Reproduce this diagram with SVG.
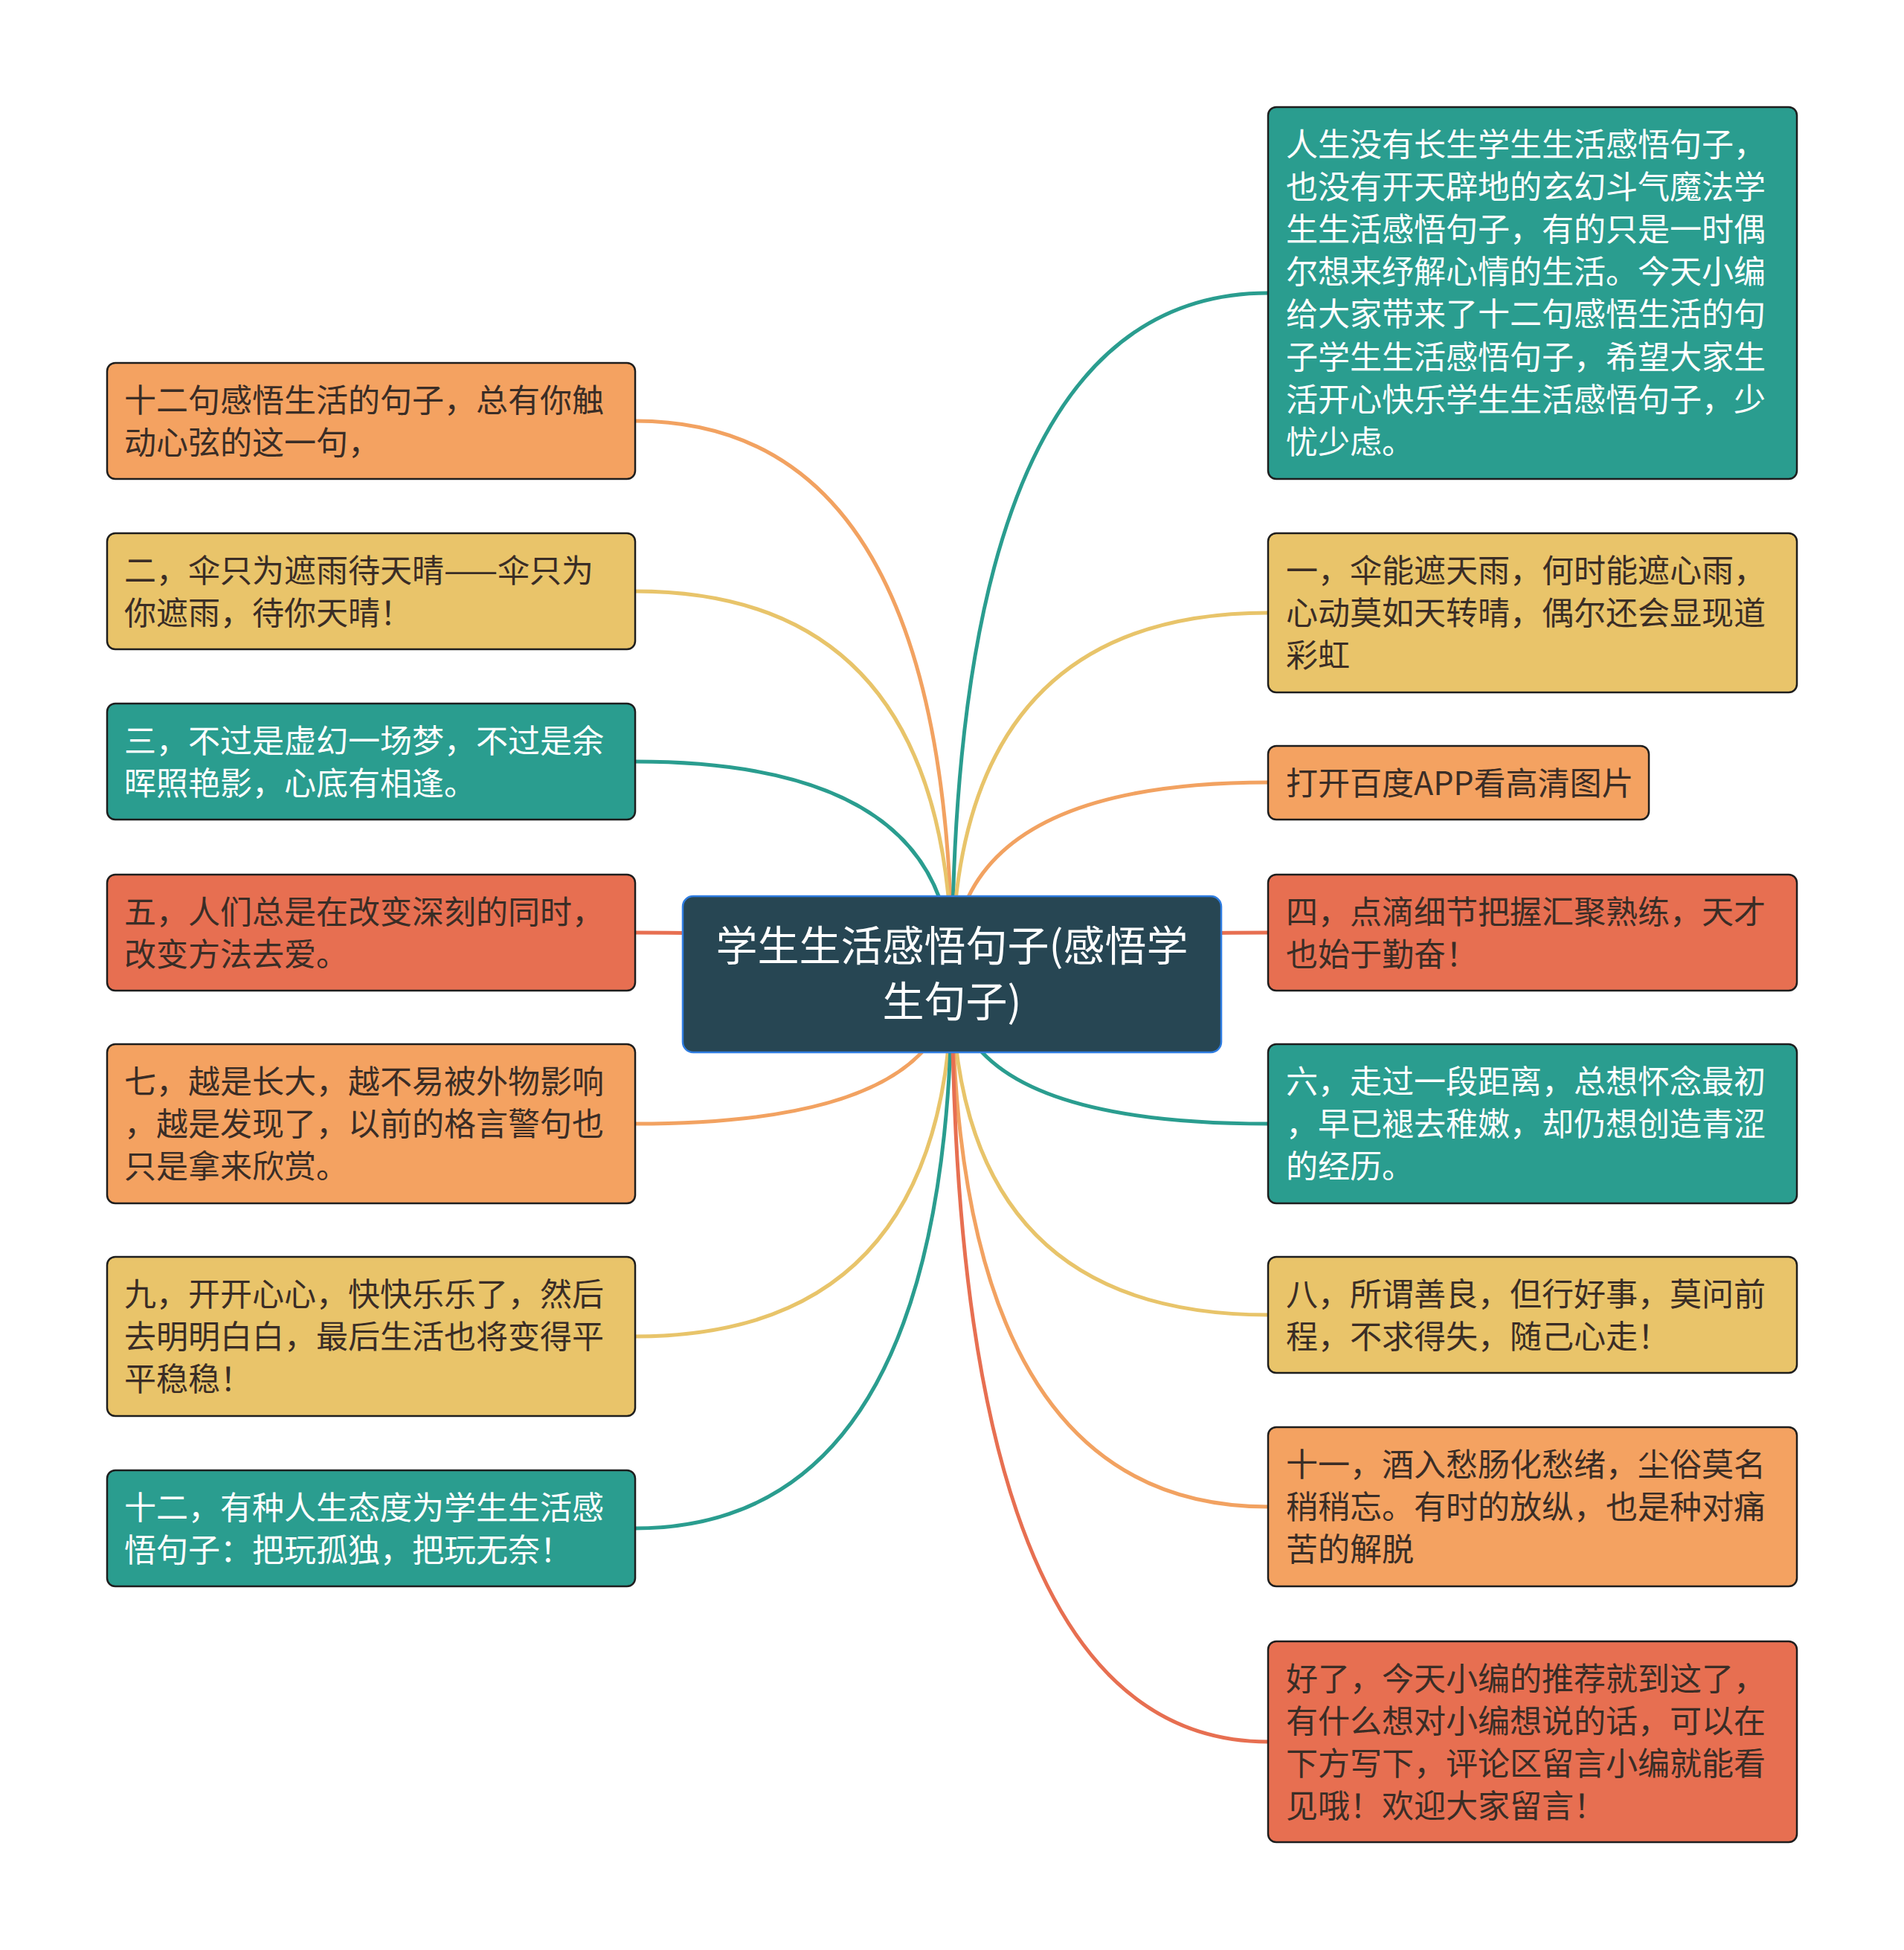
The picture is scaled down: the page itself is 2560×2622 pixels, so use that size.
<svg xmlns="http://www.w3.org/2000/svg" width="2560" height="2622" viewBox="0 0 2560 2622">
<style>
.lk{fill:none;stroke-width:5;stroke-linecap:round}
.c-o{stroke:#F2A261}.c-y{stroke:#E8C46A}.c-t{stroke:#2A9D8F}.c-r{stroke:#E76F51}
.box{stroke:#1e1e1e;stroke-width:2.5}
.f-o{fill:#F4A261}.f-y{fill:#E9C46A}.f-t{fill:#2A9D8F}.f-r{fill:#E76F51}
.tx{font-family:"Noto Sans CJK SC","Noto Sans",sans-serif;font-size:43px}
.dk{fill:#3a2d26}.wt{fill:#ffffff}
.root{fill:#274653;stroke:#2f7de1;stroke-width:2.5}
.rt{font-family:"Noto Sans CJK SC","Noto Sans",sans-serif;font-size:56px;fill:#ffffff}
</style>
<rect width="2560" height="2622" fill="#ffffff"/>
<g id="connectors">
<path class="lk c-o" d="M1280 1310 Q1280 566 854 566"/>
<path class="lk c-y" d="M1280 1310 Q1280 795 854 795"/>
<path class="lk c-t" d="M1280 1310 Q1280 1024 854 1024"/>
<path class="lk c-r" d="M1280 1310 Q1280 1254 854 1254"/>
<path class="lk c-o" d="M1280 1310 Q1280 1511 854 1511"/>
<path class="lk c-y" d="M1280 1310 Q1280 1797 854 1797"/>
<path class="lk c-t" d="M1280 1310 Q1280 2055 854 2055"/>
<path class="lk c-t" d="M1280 1310 Q1280 394 1705 394"/>
<path class="lk c-y" d="M1280 1310 Q1280 824 1705 824"/>
<path class="lk c-o" d="M1280 1310 Q1280 1052 1705 1052"/>
<path class="lk c-r" d="M1280 1310 Q1280 1254 1705 1254"/>
<path class="lk c-t" d="M1280 1310 Q1280 1511 1705 1511"/>
<path class="lk c-y" d="M1280 1310 Q1280 1768 1705 1768"/>
<path class="lk c-o" d="M1280 1310 Q1280 2026 1705 2026"/>
<path class="lk c-r" d="M1280 1310 Q1280 2342 1705 2342"/>
</g>
<g id="root">
<rect class="root" x="918" y="1205" width="724" height="210" rx="14"/>
<text class="rt" text-anchor="middle"><tspan x="1280" y="1292">学生生活感悟句子(感悟学</tspan><tspan x="1280" y="1367">生句子)</tspan></text>
</g>
<g id="L1">
<rect class="box f-o" x="144" y="488" width="710" height="156" rx="11"/>
<text class="tx dk"><tspan x="167" y="553.5">十二句感悟生活的句子，总有你触</tspan><tspan x="167" y="610.7">动心弦的这一句，</tspan></text>
</g>
<g id="L2">
<rect class="box f-y" x="144" y="717" width="710" height="156" rx="11"/>
<text class="tx dk"><tspan x="167" y="782.5">二，伞只为遮雨待天晴——伞只为</tspan><tspan x="167" y="839.7">你遮雨，待你天晴！</tspan></text>
</g>
<g id="L3">
<rect class="box f-t" x="144" y="946" width="710" height="156" rx="11"/>
<text class="tx wt"><tspan x="167" y="1011.5">三，不过是虚幻一场梦，不过是余</tspan><tspan x="167" y="1068.7">晖照艳影，心底有相逢。</tspan></text>
</g>
<g id="L4">
<rect class="box f-r" x="144" y="1176" width="710" height="156" rx="11"/>
<text class="tx dk"><tspan x="167" y="1241.5">五，人们总是在改变深刻的同时，</tspan><tspan x="167" y="1298.7">改变方法去爱。</tspan></text>
</g>
<g id="L5">
<rect class="box f-o" x="144" y="1404" width="710" height="214" rx="11"/>
<text class="tx dk"><tspan x="167" y="1469.5">七，越是长大，越不易被外物影响</tspan><tspan x="167" y="1526.7">，越是发现了，以前的格言警句也</tspan><tspan x="167" y="1583.9">只是拿来欣赏。</tspan></text>
</g>
<g id="L6">
<rect class="box f-y" x="144" y="1690" width="710" height="214" rx="11"/>
<text class="tx dk"><tspan x="167" y="1755.5">九，开开心心，快快乐乐了，然后</tspan><tspan x="167" y="1812.7">去明明白白，最后生活也将变得平</tspan><tspan x="167" y="1869.9">平稳稳！</tspan></text>
</g>
<g id="L7">
<rect class="box f-t" x="144" y="1977" width="710" height="156" rx="11"/>
<text class="tx wt"><tspan x="167" y="2042.5">十二，有种人生态度为学生生活感</tspan><tspan x="167" y="2099.7">悟句子：把玩孤独，把玩无奈！</tspan></text>
</g>
<g id="R1">
<rect class="box f-t" x="1705" y="144" width="711" height="500" rx="11"/>
<text class="tx wt"><tspan x="1729" y="209.5">人生没有长生学生生活感悟句子，</tspan><tspan x="1729" y="266.7">也没有开天辟地的玄幻斗气魔法学</tspan><tspan x="1729" y="323.9">生生活感悟句子，有的只是一时偶</tspan><tspan x="1729" y="381.1">尔想来纾解心情的生活。今天小编</tspan><tspan x="1729" y="438.3">给大家带来了十二句感悟生活的句</tspan><tspan x="1729" y="495.5">子学生生活感悟句子，希望大家生</tspan><tspan x="1729" y="552.7">活开心快乐学生生活感悟句子，少</tspan><tspan x="1729" y="609.9">忧少虑。</tspan></text>
</g>
<g id="R2">
<rect class="box f-y" x="1705" y="717" width="711" height="214" rx="11"/>
<text class="tx dk"><tspan x="1729" y="782.5">一，伞能遮天雨，何时能遮心雨，</tspan><tspan x="1729" y="839.7">心动莫如天转晴，偶尔还会显现道</tspan><tspan x="1729" y="896.9">彩虹</tspan></text>
</g>
<g id="R3">
<rect class="box f-o" x="1705" y="1003" width="512" height="99" rx="11"/>
<text class="tx dk" x="1729" y="1068.5">打开百度APP看高清图片</text>
</g>
<g id="R4">
<rect class="box f-r" x="1705" y="1176" width="711" height="156" rx="11"/>
<text class="tx dk"><tspan x="1729" y="1241.5">四，点滴细节把握汇聚熟练，天才</tspan><tspan x="1729" y="1298.7">也始于勤奋！</tspan></text>
</g>
<g id="R5">
<rect class="box f-t" x="1705" y="1404" width="711" height="214" rx="11"/>
<text class="tx wt"><tspan x="1729" y="1469.5">六，走过一段距离，总想怀念最初</tspan><tspan x="1729" y="1526.7">，早已褪去稚嫩，却仍想创造青涩</tspan><tspan x="1729" y="1583.9">的经历。</tspan></text>
</g>
<g id="R6">
<rect class="box f-y" x="1705" y="1690" width="711" height="156" rx="11"/>
<text class="tx dk"><tspan x="1729" y="1755.5">八，所谓善良，但行好事，莫问前</tspan><tspan x="1729" y="1812.7">程，不求得失，随己心走！</tspan></text>
</g>
<g id="R7">
<rect class="box f-o" x="1705" y="1919" width="711" height="214" rx="11"/>
<text class="tx dk"><tspan x="1729" y="1984.5">十一，酒入愁肠化愁绪，尘俗莫名</tspan><tspan x="1729" y="2041.7">稍稍忘。有时的放纵，也是种对痛</tspan><tspan x="1729" y="2098.9">苦的解脱</tspan></text>
</g>
<g id="R8">
<rect class="box f-r" x="1705" y="2207" width="711" height="270" rx="11"/>
<text class="tx dk"><tspan x="1729" y="2272.5">好了，今天小编的推荐就到这了，</tspan><tspan x="1729" y="2329.7">有什么想对小编想说的话，可以在</tspan><tspan x="1729" y="2386.9">下方写下，评论区留言小编就能看</tspan><tspan x="1729" y="2444.1">见哦！欢迎大家留言！</tspan></text>
</g>
</svg>
